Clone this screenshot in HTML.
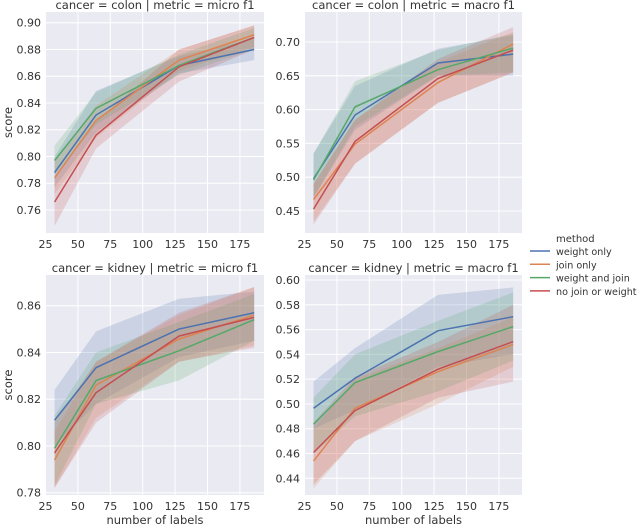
<!DOCTYPE html>
<html><head><meta charset="utf-8"><style>
body{margin:0;background:#fff;width:640px;height:526px;overflow:hidden;font-family:"Liberation Sans","DejaVu Sans",sans-serif}
svg text{font-family:"DejaVu Sans","Liberation Sans",sans-serif;fill:#333}
</style></head><body>
<svg id="chart" width="640" height="526" viewBox="0 0 640 526" xmlns="http://www.w3.org/2000/svg"></svg>
<script>
const xValues=[32,64,128,186];
const methods=["weight only","join only","weight and join","no join or weight"];
const colors=["#4c72b0","#dd8452","#55a868","#c44e52"];
const xTicks=[25,50,75,100,125,150,175];
// panel 1: colon micro f1
const p1Mean=[[.788,.831,.868,.880],[.784,.827,.872,.891],[.797,.836,.868,.889],[.766,.816,.867,.889]];
const p1Lo=[[.777,.818,.862,.872],[.772,.814,.864,.882],[.786,.824,.861,.880],[.748,.806,.856,.880]];
const p1Hi=[[.800,.849,.875,.888],[.796,.838,.880,.898],[.808,.848,.876,.896],[.785,.826,.880,.898]];
const p1Ticks=[.76,.78,.80,.82,.84,.86,.88,.90];
// panel 2: colon macro f1
const p2Mean=[[.498,.592,.669,.682],[.467,.549,.640,.697],[.496,.604,.659,.691],[.453,.553,.646,.688]];
const p2Lo=[[.470,.570,.650,.650],[.435,.520,.610,.655],[.470,.575,.650,.655],[.430,.520,.610,.655]];
const p2Hi=[[.535,.635,.690,.710],[.490,.585,.670,.715],[.535,.642,.688,.712],[.490,.585,.675,.722]];
const p2Ticks=[.45,.50,.55,.60,.65,.70];
// panel 3: kidney micro f1
const p3Mean=[[.811,.8335,.850,.857],[.794,.826,.8457,.856],[.799,.828,.8407,.854],[.797,.8228,.847,.855]];
const p3Lo=[[.800,.818,.838,.845],[.782,.812,.836,.843],[.783,.818,.828,.845],[.782,.810,.836,.842]];
const p3Hi=[[.824,.849,.863,.866],[.806,.836,.856,.868],[.813,.840,.853,.865],[.810,.836,.857,.868]];
const p3Ticks=[.78,.80,.82,.84,.86];
// panel 4: kidney macro f1
const p4Mean=[[.4965,.5207,.5591,.5704],[.454,.4965,.526,.548],[.4836,.5172,.5422,.5624],[.4608,.4946,.528,.5503]];
const p4Lo=[[.480,.495,.530,.540],[.432,.470,.500,.530],[.460,.490,.510,.535],[.435,.470,.505,.518]];
const p4Hi=[[.518,.545,.588,.594],[.480,.520,.545,.570],[.505,.540,.567,.590],[.485,.522,.550,.580]];
const p4Ticks=[.44,.46,.48,.50,.52,.54,.56,.58,.60];

const NS="http://www.w3.org/2000/svg";
const svg=document.getElementById('chart');
function mk(tag,attrs,parent){const e=document.createElementNS(NS,tag);for(const k in attrs)e.setAttribute(k,attrs[k]);(parent||svg).appendChild(e);return e;}

const panels=[
 {title:"cancer = colon | metric = micro f1",L:46,R:264,T:12,B:233,y0:.76,py0:210,y1:.90,py1:22.7,mean:p1Mean,lo:p1Lo,hi:p1Hi,ticks:p1Ticks,ylab:true,xlab:false},
 {title:"cancer = colon | metric = macro f1",L:305,R:522,T:12,B:233,y0:.45,py0:211,y1:.70,py1:42,mean:p2Mean,lo:p2Lo,hi:p2Hi,ticks:p2Ticks,ylab:false,xlab:false},
 {title:"cancer = kidney | metric = micro f1",L:46,R:264,T:275,B:495,y0:.78,py0:492.7,y1:.86,py1:305.7,mean:p3Mean,lo:p3Lo,hi:p3Hi,ticks:p3Ticks,ylab:true,xlab:true},
 {title:"cancer = kidney | metric = macro f1",L:305,R:522,T:275,B:495,y0:.44,py0:478.3,y1:.60,py1:280,mean:p4Mean,lo:p4Lo,hi:p4Hi,ticks:p4Ticks,ylab:false,xlab:true}
];
panels.forEach((p,pi)=>{
 const xs=v=>p.L-0.5+(v-25)*(32.4/25);
 const ys=v=>p.py0+(v-p.y0)*(p.py1-p.py0)/(p.y1-p.y0);
 const g=mk('g',{});
 
 
 const bg=mk('rect',{x:p.L,y:p.T,width:p.R-p.L,height:p.B-p.T,fill:'#eaeaf2'},g);
 
 
 xTicks.forEach(t=>{const x=xs(t);
  if(x>=p.L-1) mk('line',{x1:x,x2:x,y1:p.T,y2:p.B,stroke:'#fff','stroke-width':1},g);
  const tx=mk('text',{x:x,y:p.B+15,'font-size':11,'text-anchor':'middle'},g);tx.textContent=t;
  
  
 });
 p.ticks.forEach(t=>{const y=ys(t);
  mk('line',{x1:p.L,x2:p.R,y1:y,y2:y,stroke:'#fff','stroke-width':1},g);
  const tx=mk('text',{x:p.L-5,y:y+4,'font-size':11,'text-anchor':'end'},g);tx.textContent=t.toFixed(2);
  
  
 });
 const tt=mk('text',{x:(p.L+p.R)/2,y:p.T-3,'font-size':11.5,'text-anchor':'middle'},g);tt.textContent=p.title;
 
 
 for(let m=0;m<4;m++){
  let d='M';xValues.forEach((v,i)=>{d+=xs(v)+','+ys(p.hi[m][i])+' L';});
  for(let i=3;i>=0;i--){d+=xs(xValues[i])+','+ys(p.lo[m][i])+(i?' L':' Z');}
  const band=mk('path',{d:d,fill:colors[m],'fill-opacity':0.2,stroke:'none'},g);
  
  
 }
 for(let m=0;m<4;m++){
  const pts=xValues.map((v,i)=>xs(v)+','+ys(p.mean[m][i])).join(' ');
  const ln=mk('polyline',{points:pts,fill:'none',stroke:colors[m],'stroke-width':1.5},g);
  
  
 }
 if(p.ylab){const t=mk('text',{x:0,y:0,'font-size':11.5,'text-anchor':'middle',transform:'translate(12,'+((p.T+p.B)/2)+') rotate(-90)'},g);t.textContent='score';
  
  }
 if(p.xlab){const t=mk('text',{x:(p.L+p.R)/2,y:p.B+29,'font-size':11.5,'text-anchor':'middle'},g);t.textContent='number of labels';
  
  }
});
const lg=mk('g',{});


const lt=mk('text',{x:556,y:242,'font-size':10},lg);lt.textContent='method';


methods.forEach((m,i)=>{const y=251+i*13.3;
 mk('line',{x1:530,x2:550,y1:y,y2:y,stroke:colors[i],'stroke-width':1.5},lg);
 const t=mk('text',{x:556,y:y+4,'font-size':9.6},lg);t.textContent=m;
 
 
});
</script>
</body></html>
